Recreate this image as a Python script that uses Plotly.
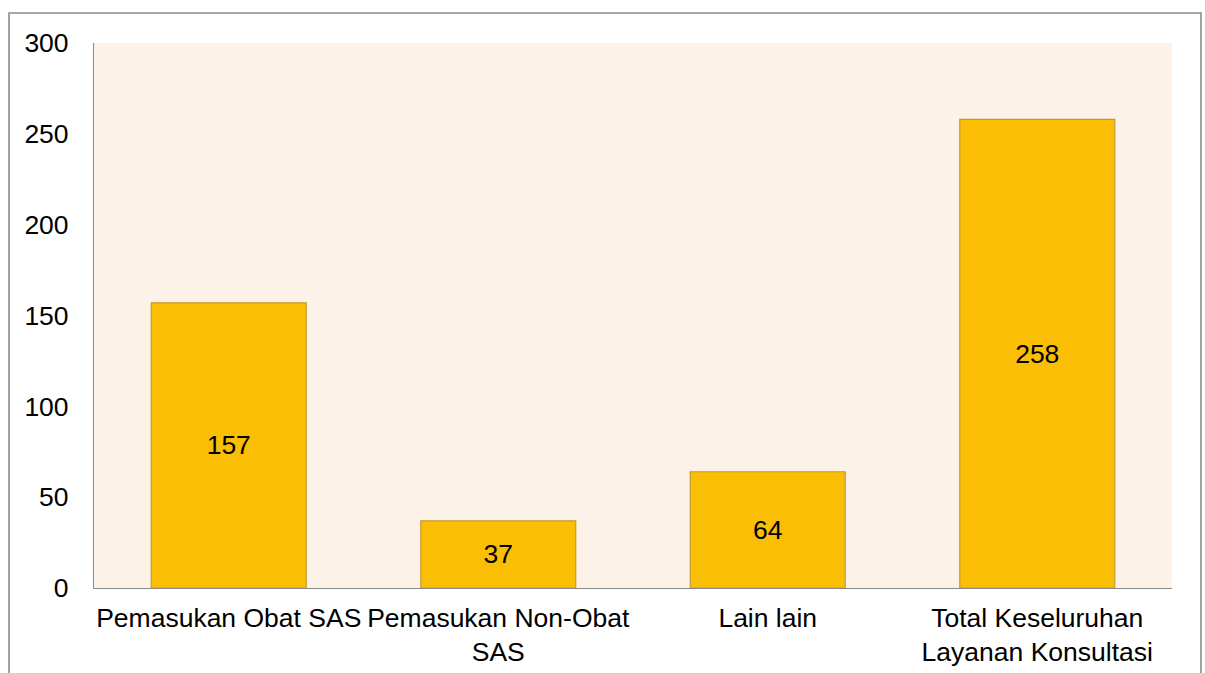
import plotly.graph_objects as go

categories = [
    "Pemasukan Obat SAS",
    "Pemasukan Non-Obat<br>SAS",
    "Lain lain",
    "Total Keseluruhan<br>Layanan Konsultasi",
]
values = [157, 37, 64, 258]
y_ticks = [0, 50, 100, 150, 200, 250, 300]

FONT = "Liberation Sans, Arial, sans-serif"
FONT_SIZE = 26.5
BAR_FILL = "#FABE05"
BAR_EDGE = "#C49C2E"
PLOT_BG = "#FDF2E7"
AXIS_GREY = "#8A8A8A"

fig = go.Figure(
    go.Bar(
        x=categories,
        y=values,
        text=[str(v) for v in values],
        textposition="inside",
        insidetextanchor="middle",
        textangle=0,
        textfont=dict(family=FONT, size=FONT_SIZE, color="#000000"),
        marker=dict(color=BAR_FILL, line=dict(color=BAR_EDGE, width=1.2)),
        hoverinfo="skip",
    )
)

fig.update_layout(
    width=1205,
    height=673,
    margin=dict(l=94, r=33, t=43, b=85, autoexpand=False),
    paper_bgcolor="#FFFFFF",
    plot_bgcolor=PLOT_BG,
    bargap=0.425,
    showlegend=False,
    font=dict(family=FONT, size=FONT_SIZE, color="#000000"),
)

fig.update_xaxes(
    automargin=False,
    showline=True,
    linecolor=AXIS_GREY,
    linewidth=1.2,
    showgrid=False,
    ticks="",
    tickfont=dict(family=FONT, size=FONT_SIZE, color="#000000"),
    ticklabelstandoff=6,
)

fig.update_yaxes(
    automargin=False,
    range=[0, 300],
    tickvals=y_ticks,
    ticktext=[str(t) for t in y_ticks],
    showline=True,
    linecolor=AXIS_GREY,
    linewidth=1.2,
    showgrid=False,
    zeroline=False,
    ticks="",
    ticklabelstandoff=19,
    tickfont=dict(family=FONT, size=FONT_SIZE, color="#000000"),
)

# Grey frame around the whole chart area (bottom edge runs off the page)
fig.add_shape(
    type="rect",
    xref="paper",
    yref="paper",
    x0=(9 - 94) / 1078,
    x1=(1201 - 94) / 1078,
    y0=(588 - 700) / 545,
    y1=(588 - 13) / 545,
    line=dict(color="#8C8C8C", width=1.6),
    fillcolor="rgba(0,0,0,0)",
    layer="below",
)

fig.write_html("out.html")
